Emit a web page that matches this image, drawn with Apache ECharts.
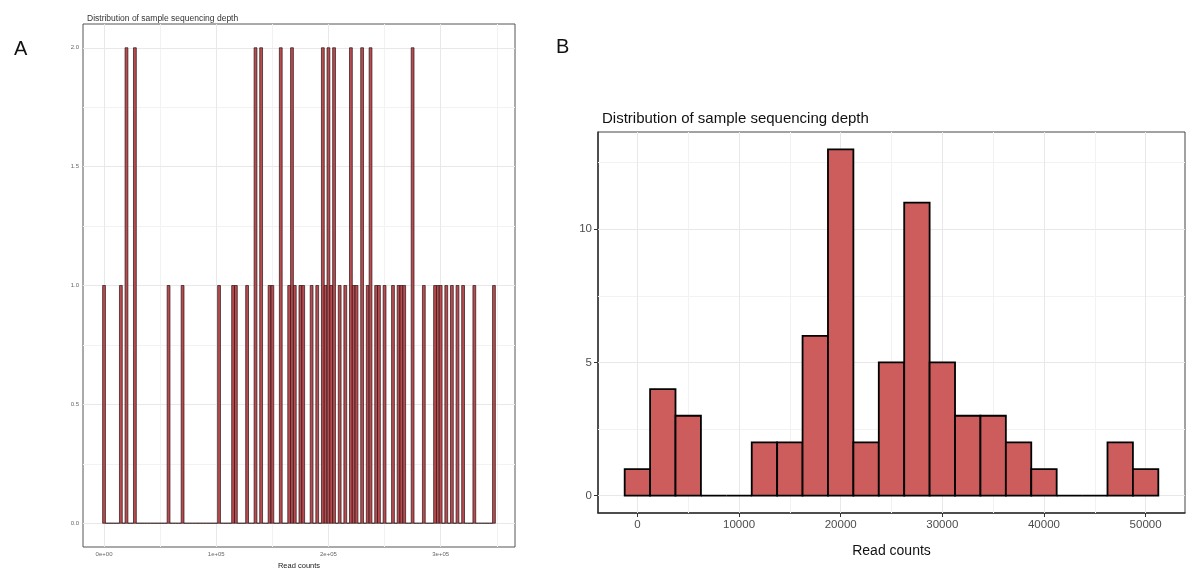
<!DOCTYPE html>
<html>
<head>
<meta charset="utf-8">
<script src="https://cdn.jsdelivr.net/npm/echarts@6/dist/echarts.min.js"></script>
<style>
html,body{margin:0;padding:0;background:#fff;}
#c{width:1196px;height:575px;}
</style>
</head>
<body>
<div id="c"></div>
<script>
// ---------- DATA ----------
// Panel A: histogram of read counts, bin width 2500, bins centred at 0, 2500, ..., 347500
const binWidthA = 2500;
const countsA = [
  1,0,0,0,0,0,1,0,2,0, 0,2,0,0,0,0,0,0,0,0,   // 0-19
  0,0,0,1,0,0,0,0,1,0, 0,0,0,0,0,0,0,0,0,0,   // 20-39
  0,1,0,0,0,0,1,1,0,0, 0,1,0,0,2,0,2,0,0,1,   // 40-59
  1,0,0,2,0,0,1,2,1,0, 1,1,0,0,1,0,1,0,2,1,   // 60-79
  2,1,2,0,1,0,1,0,2,1, 1,0,2,0,1,2,0,1,1,0,   // 80-99
  1,0,0,1,0,1,1,1,0,0, 2,0,0,0,1,0,0,0,1,1,   // 100-119
  1,0,1,0,1,0,1,0,1,0, 0,0,1,0,0,0,0,0,0,1    // 120-139
];
const yTicksA = [0, 0.5, 1.0, 1.5, 2.0];
const xTicksA = [0, 100000, 200000, 300000];
const xTickLabelsA = ['0e+00', '1e+05', '2e+05', '3e+05'];

// Panel B: histogram of read counts, bin width 2500, bins centred at 0 ... 50000
const binWidthB = 2500;
const binCentersB = [0,2500,5000,7500,10000,12500,15000,17500,20000,22500,25000,27500,30000,32500,35000,37500,40000,42500,45000,47500,50000];
const countsB     = [1,4,3,0,0,2,2,6,13,2,5,11,5,3,3,2,1,0,0,2,1];
const yTicksB = [0, 5, 10];
const xTicksB = [0, 10000, 20000, 30000, 40000, 50000];

const titleText = 'Distribution of sample sequencing depth';
const xName = 'Read counts';

// ---------- BUILD ----------
const dataA = countsA.map((c, i) => [i * binWidthA, c]);
const dataB = binCentersB.map((x, i) => [x, countsB[i]]);

function barRenderer(halfWidth, fill, stroke, lw) {
  return function (params, api) {
    const x = api.value(0), y = api.value(1);
    const p0 = api.coord([x - halfWidth, y]);
    const p1 = api.coord([x + halfWidth, 0]);
    return {
      type: 'rect',
      shape: { x: p0[0], y: p0[1], width: p1[0] - p0[0], height: p1[1] - p0[1] },
      style: { fill: fill, stroke: stroke, lineWidth: lw }
    };
  };
}

const majorStyle = { color: '#e8e8e8', width: 1, type: 'solid' };
const minorStyle = { color: '#f2f2f2', width: 1, type: 'solid' };
function gridLines(xMajor, xMinor, yMajor, yMinor) {
  const d = [];
  xMinor.forEach(v => d.push({ xAxis: v, lineStyle: minorStyle }));
  yMinor.forEach(v => d.push({ yAxis: v, lineStyle: minorStyle }));
  xMajor.forEach(v => d.push({ xAxis: v, lineStyle: majorStyle }));
  yMajor.forEach(v => d.push({ yAxis: v, lineStyle: majorStyle }));
  return d;
}

const chart = echarts.init(document.getElementById('c'), null, { renderer: 'canvas' });
const font = 'Liberation Sans, Arial, sans-serif';

chart.setOption({
  animation: false,
  backgroundColor: '#fff',
  textStyle: { fontFamily: font },
  grid: [
    { left: 83, right: 681, top: 24, bottom: 24, show: true, borderColor: '#555', borderWidth: 1, backgroundColor: '#fff' },
    { left: 598, right: 11, top: 132, bottom: 62, show: true, borderColor: '#444', borderWidth: 1, backgroundColor: '#fff' }
  ],
  title: [
    { text: 'A', left: 9, top: 34, textStyle: { fontSize: 20, fontWeight: 'normal', color: '#111', fontFamily: font } },
    { text: 'B', left: 551, top: 32, textStyle: { fontSize: 20, fontWeight: 'normal', color: '#111', fontFamily: font } },
    { text: titleText, left: 82, top: 9, textStyle: { fontSize: 8.5, fontWeight: 'normal', color: '#333', fontFamily: font } },
    { text: titleText, left: 597, top: 106, textStyle: { fontSize: 15, fontWeight: 'normal', color: '#111', fontFamily: font } }
  ],
  xAxis: [
    {
      type: 'value', gridIndex: 0, min: -18750, max: 366250,
      name: xName, nameLocation: 'middle', nameGap: 15,
      nameTextStyle: { fontSize: 7.5, color: '#222' },
      axisLine: { show: false },
      splitLine: { show: false },
      axisTick: { show: true, length: 2, lineStyle: { color: '#444' }, customValues: xTicksA },
      axisLabel: { fontSize: 6, color: '#666', margin: 4, customValues: xTicksA,
        formatter: v => xTickLabelsA[xTicksA.indexOf(v)] }
    },
    {
      type: 'value', gridIndex: 1, min: -3875, max: 53875,
      name: xName, nameLocation: 'middle', nameGap: 31,
      nameTextStyle: { fontSize: 14, color: '#111' },
      axisLine: { show: true, onZero: false, lineStyle: { color: '#333', width: 1.5 } },
      splitLine: { show: false },
      axisTick: { show: true, length: 4, lineStyle: { color: '#333' }, customValues: xTicksB },
      axisLabel: { fontSize: 11.5, color: '#4d4d4d', margin: 6, customValues: xTicksB,
        formatter: v => String(v) }
    }
  ],
  yAxis: [
    {
      type: 'value', gridIndex: 0, min: -0.1, max: 2.1,
      axisLine: { show: false },
      splitLine: { show: false },
      axisTick: { show: true, length: 2, lineStyle: { color: '#444' }, customValues: yTicksA },
      axisLabel: { fontSize: 6, color: '#666', margin: 4, customValues: yTicksA,
        formatter: v => v.toFixed(1) }
    },
    {
      type: 'value', gridIndex: 1, min: -0.65, max: 13.65,
      axisLine: { show: true, onZero: false, lineStyle: { color: '#333', width: 1.5 } },
      splitLine: { show: false },
      axisTick: { show: true, length: 4, lineStyle: { color: '#333' }, customValues: yTicksB },
      axisLabel: { fontSize: 11.5, color: '#4d4d4d', margin: 6, customValues: yTicksB,
        formatter: v => String(v) }
    }
  ],
  series: [
    {
      type: 'line', xAxisIndex: 0, yAxisIndex: 0, data: [[0, 0]], showSymbol: false,
      lineStyle: { opacity: 0 }, silent: true, z: 1,
      markLine: {
        silent: true, z: 1, symbol: ['none', 'none'], label: { show: false },
        data: gridLines(xTicksA, [50000, 150000, 250000, 350000], yTicksA, [0.25, 0.75, 1.25, 1.75])
      }
    },
    {
      type: 'line', xAxisIndex: 1, yAxisIndex: 1, data: [[0, 0]], showSymbol: false,
      lineStyle: { opacity: 0 }, silent: true, z: 1,
      markLine: {
        silent: true, z: 1, symbol: ['none', 'none'], label: { show: false },
        data: gridLines(xTicksB, [5000, 15000, 25000, 35000, 45000], yTicksB, [2.5, 7.5, 12.5])
      }
    },
    {
      type: 'custom', xAxisIndex: 0, yAxisIndex: 0, z: 3,
      renderItem: barRenderer(binWidthA / 2, '#b84c50', '#2a1212', 0.7),
      encode: { x: 0, y: 1 },
      data: dataA
    },
    {
      type: 'custom', xAxisIndex: 1, yAxisIndex: 1, z: 3,
      renderItem: barRenderer(binWidthB / 2, '#cd5c5c', '#000', 1.8),
      encode: { x: 0, y: 1 },
      data: dataB
    }
  ]
});
</script>
</body>
</html>
